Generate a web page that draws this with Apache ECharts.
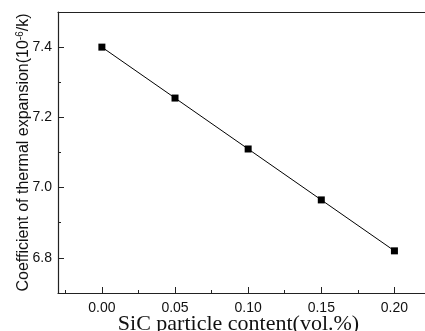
<!DOCTYPE html>
<html><head><meta charset="utf-8">
<script src="https://cdn.jsdelivr.net/npm/echarts@6/dist/echarts.min.js"></script>
<style>html,body{margin:0;padding:0;background:#fff}#c{width:425px;height:331px}</style>
</head><body><div id="c"></div>
<script>
const xValues = [0.00, 0.05, 0.10, 0.15, 0.20];
const cte = [7.40, 7.255, 7.11, 6.965, 6.82];
const xMajorTicks = [0.00, 0.05, 0.10, 0.15, 0.20];
const xMinorTicks = [-0.025, 0.025, 0.075, 0.125, 0.175];
const yMajorTicks = [6.8, 7.0, 7.2, 7.4];
const yMinorTicks = [6.9, 7.1, 7.3];
const xName = 'SiC particle content(vol.%)';
const yName = 'Coefficient of thermal expansion(10{sup|-6}/k)';

const XMIN = -0.03, XMAX = 0.225, YMIN = 6.7, YMAX = 7.5;
const lineCol = '#222';
const chart = echarts.init(document.getElementById('c'), null, {renderer: 'canvas'});
const baseX = {type: 'value', min: XMIN, max: XMAX, splitLine: {show: false}};
const baseY = {type: 'value', min: YMIN, max: YMAX, splitLine: {show: false}};
chart.setOption({
  animation: false,
  backgroundColor: '#fff',
  grid: {left: 58, top: 12, right: -6, bottom: 38, containLabel: false, outerBoundsMode: 'none'},
  xAxis: [
    Object.assign({}, baseX, {
      position: 'bottom',
      axisLine: {show: true, onZero: false, lineStyle: {color: lineCol, width: 1.2}},
      axisTick: {show: true, inside: true, length: 6, customValues: xMajorTicks, lineStyle: {color: lineCol}},
      axisLabel: {show: true, customValues: xMajorTicks, margin: 8, fontSize: 14, color: '#111', fontFamily: 'Liberation Sans, Arial',
        formatter: v => v.toFixed(2)},
      name: xName, nameLocation: 'middle', nameGap: 20, nameMoveOverlap: false,
      nameTextStyle: {fontFamily: 'Liberation Serif, Times New Roman', fontSize: 22, color: '#111', padding: [0, 12, 0, 0]}
    }),
    Object.assign({}, baseX, {
      position: 'bottom',
      axisLine: {show: false, onZero: false},
      axisTick: {show: true, inside: true, length: 3, customValues: xMinorTicks, lineStyle: {color: lineCol}},
      axisLabel: {show: false}
    }),
    Object.assign({}, baseX, {
      position: 'top',
      axisLine: {show: true, onZero: false, lineStyle: {color: lineCol, width: 1.2}},
      axisTick: {show: false},
      axisLabel: {show: false}
    })
  ],
  yAxis: [
    Object.assign({}, baseY, {
      position: 'left',
      axisLine: {show: true, onZero: false, lineStyle: {color: lineCol, width: 1.2}},
      axisTick: {show: true, inside: true, length: 6, customValues: yMajorTicks, lineStyle: {color: lineCol}},
      axisLabel: {show: true, customValues: yMajorTicks, margin: 6, fontSize: 14, color: '#111', fontFamily: 'Liberation Sans, Arial',
        formatter: v => v.toFixed(1)},
      name: yName, nameLocation: 'middle', nameGap: 25, nameRotate: 90, nameMoveOverlap: false,
      nameTextStyle: {fontFamily: 'Liberation Sans, Arial', fontSize: 16, color: '#111', lineHeight: 18,
        rich: {sup: {fontSize: 10, verticalAlign: 'top', lineHeight: 18, fontFamily: 'Liberation Sans, Arial', color: '#111'}}}
    }),
    Object.assign({}, baseY, {
      position: 'left',
      axisLine: {show: false, onZero: false},
      axisTick: {show: true, inside: true, length: 3, customValues: yMinorTicks, lineStyle: {color: lineCol}},
      axisLabel: {show: false}
    })
  ],
  series: [{
    type: 'line',
    xAxisIndex: 0, yAxisIndex: 0,
    data: xValues.map((x, i) => [x, cte[i]]),
    symbol: 'rect', symbolSize: 7,
    itemStyle: {color: '#000'},
    lineStyle: {color: '#000', width: 1}
  }]
});
</script></body></html>
